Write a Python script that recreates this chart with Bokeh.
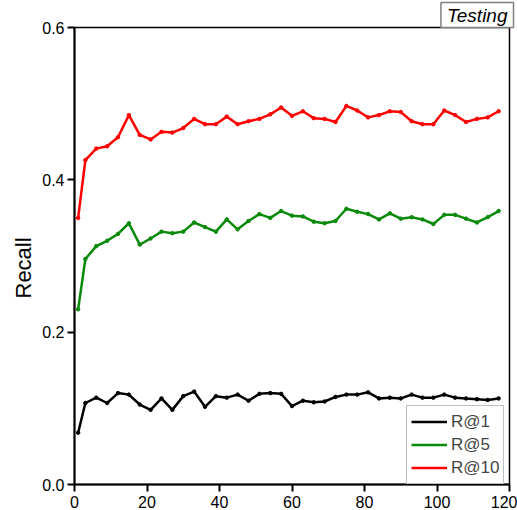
from bokeh.plotting import figure
from bokeh.models import Range1d, FixedTicker, PrintfTickFormatter, Title, Legend, LegendItem
from bokeh.embed import file_html
from bokeh.resources import INLINE

epochs = [1, 3, 6, 9, 12, 15, 18, 21, 24, 27, 30, 33, 36, 39, 42, 45, 48, 51, 54, 57,
          60, 63, 66, 69, 72, 75, 78, 81, 84, 87, 90, 93, 96, 99, 102, 105, 108, 111, 114, 117]

r_at_1 = [0.068, 0.107, 0.114, 0.107, 0.120, 0.118, 0.105, 0.098, 0.113, 0.098,
          0.116, 0.122, 0.102, 0.116, 0.114, 0.118, 0.110, 0.119, 0.120, 0.119,
          0.103, 0.110, 0.108, 0.109, 0.115, 0.118, 0.118, 0.121, 0.113, 0.114,
          0.113, 0.118, 0.114, 0.114, 0.118, 0.114, 0.113, 0.112, 0.111, 0.113]

r_at_5 = [0.230, 0.296, 0.313, 0.320, 0.329, 0.343, 0.315, 0.323, 0.332, 0.330,
          0.332, 0.344, 0.338, 0.332, 0.348, 0.335, 0.346, 0.355, 0.350, 0.359,
          0.353, 0.352, 0.345, 0.343, 0.346, 0.362, 0.358, 0.355, 0.348, 0.356,
          0.349, 0.351, 0.348, 0.342, 0.354, 0.354, 0.349, 0.344, 0.351, 0.359]

r_at_10 = [0.350, 0.426, 0.441, 0.444, 0.456, 0.485, 0.459, 0.453, 0.463, 0.462,
           0.468, 0.480, 0.473, 0.473, 0.483, 0.473, 0.477, 0.480, 0.486, 0.495,
           0.484, 0.490, 0.481, 0.480, 0.476, 0.497, 0.491, 0.482, 0.485, 0.490,
           0.489, 0.477, 0.473, 0.473, 0.491, 0.485, 0.476, 0.480, 0.482, 0.490]

series_names = ["R@1", "R@5", "R@10"]
series_colors = ["#000000", "#0a8a0a", "#ff0000"]
y_ticks = [0.0, 0.2, 0.4, 0.6]
x_ticks = [0, 20, 40, 60, 80, 100, 120]

FONT = "Liberation Sans"

p = figure(width=517, height=510, output_backend="svg", toolbar_location=None,
           x_range=Range1d(0, 120), y_range=Range1d(0, 0.6),
           min_border_left=74, min_border_right=8, min_border_top=27, min_border_bottom=5)

p.grid.visible = False
p.outline_line_color = "black"
p.outline_line_width = 1.5
p.background_fill_color = "white"
p.border_fill_color = "white"

for ax in (p.xaxis[0], p.yaxis[0]):
    ax.axis_line_width = 2
    ax.axis_line_color = "black"
    ax.major_tick_line_width = 2
    ax.major_tick_line_color = "black"
    ax.major_tick_in = 0
    ax.major_tick_out = 7
    ax.minor_tick_line_color = None
    ax.major_label_text_font = FONT
    ax.major_label_text_font_size = "16px"
    ax.major_label_text_color = "black"

p.xaxis.ticker = FixedTicker(ticks=x_ticks)
p.xaxis.major_label_standoff = 4
p.xaxis.major_tick_out = 7
p.yaxis.ticker = FixedTicker(ticks=y_ticks)
p.yaxis.formatter = PrintfTickFormatter(format="%.1f")
p.yaxis.major_label_standoff = 3

items = []
for name, ys, col in zip(series_names, [r_at_1, r_at_5, r_at_10], series_colors):
    ln = p.line(epochs, ys, line_color=col, line_width=2.5)
    p.scatter(epochs, ys, marker="circle", size=3.5, fill_color=col, line_color=col)
    items.append(LegendItem(label=name, renderers=[ln]))

legend = Legend(items=items, location=(332, 0))
legend.label_text_font = FONT
legend.label_text_font_size = "17px"
legend.glyph_width = 36
legend.glyph_height = 23
legend.label_height = 23
legend.label_standoff = 4
legend.spacing = 0
legend.padding = 4
legend.margin = 0
legend.border_line_color = "#808080"
legend.border_line_width = 1
legend.background_fill_alpha = 1
p.add_layout(legend, "center")

testing = Title(text="Testing", align="right", text_font=FONT, text_font_size="19px",
                text_font_style="italic", text_color="black", standoff=0, offset=-4,
                padding=(6, 6, 2, 2), border_line_color="#808080", border_line_width=1.5,
                background_fill_color="white")
p.add_layout(testing, "above")

ylabel = Title(text="Recall", align="left", text_font=FONT, text_font_size="22px",
               text_font_style="normal", text_color="black", standoff=7, offset=186)
p.add_layout(ylabel, "left")

open("out.html", "w").write(file_html(p, INLINE))
